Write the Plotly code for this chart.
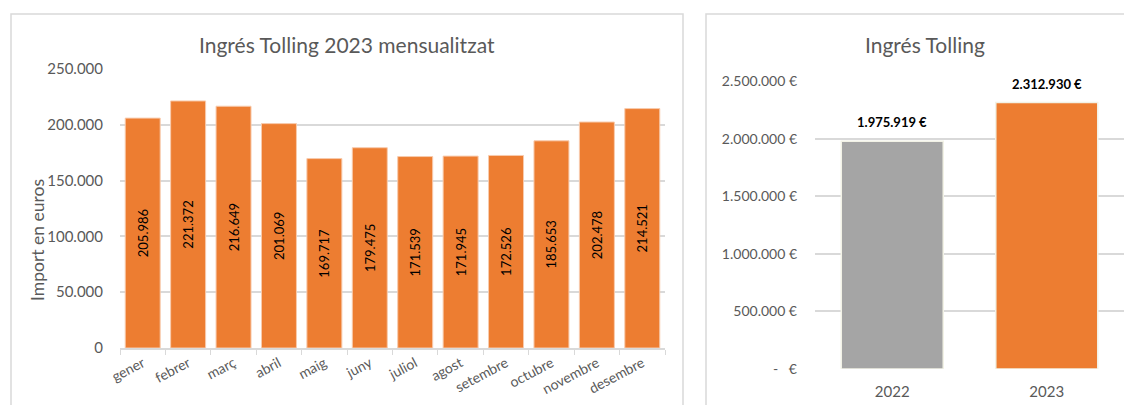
import plotly.graph_objects as go

months = ["gener", "febrer", "març", "abril", "maig", "juny", "juliol", "agost",
          "setembre", "octubre", "novembre", "desembre"]
ingres_2023 = [205986, 221372, 216649, 201069, 169717, 179475, 171539, 171945,
               172526, 185653, 202478, 214521]

years = ["2022", "2023"]
totals = [1975919, 2312930]
year_colors = ["#A5A5A5", "#ED7D31"]

left_ticks = [0, 50000, 100000, 150000, 200000, 250000]
right_ticks = [0, 500000, 1000000, 1500000, 2000000, 2500000]
right_ticktext = ["-   €", "500.000 €", "1.000.000 €", "1.500.000 €", "2.000.000 €", "2.500.000 €"]

W, H = 1132, 405
OFF = 8  # page body margin
FONT = "Lato, 'Open Sans', sans-serif"
GREY_TXT = "#595959"
GRID = "#d9d9d9"


def px(x):
    return (x - OFF) / W


def py(y):
    return 1 - (y - OFF) / H


def fmt_eur(v):
    return f"{v:,d}".replace(",", ".") + " €"


fig = go.Figure()

fig.add_trace(go.Bar(
    x=months, y=ingres_2023, xaxis="x", yaxis="y",
    marker=dict(color="#ED7D31", line=dict(color="#F8CBAD", width=1)),
    texttemplate="%{y:,d}", textposition="inside", insidetextanchor="middle",
    textangle=-90, textfont=dict(color="black", size=13, family=FONT),
    showlegend=False,
))

fig.add_trace(go.Bar(
    x=years, y=totals, xaxis="x2", yaxis="y2", width=0.66,
    marker=dict(color=year_colors, line=dict(color="#F2F2E6", width=1.5)),
    showlegend=False,
))

annotations = [
    dict(text="Ingrés Tolling 2023 mensualitzat", xref="paper", yref="paper",
         x=px(347), y=py(45), xanchor="center", yanchor="middle", showarrow=False,
         font=dict(size=21, color=GREY_TXT, family=FONT)),
    dict(text="Ingrés Tolling", xref="paper", yref="paper",
         x=px(925), y=py(44), xanchor="center", yanchor="middle", showarrow=False,
         font=dict(size=21, color=GREY_TXT, family=FONT)),
    dict(text="Import en euros", xref="paper", yref="paper",
         x=px(37), y=py(240), xanchor="center", yanchor="middle", showarrow=False,
         textangle=-90,
         font=dict(size=17.5, color=GREY_TXT, family=FONT)),
]
for i, tot in enumerate(totals):
    annotations.append(dict(
        text=f"<b>{fmt_eur(tot)}</b>", xref="x2", yref="y2", x=i, y=tot,
        xanchor="center", yanchor="bottom", yshift=9, showarrow=False,
        font=dict(size=13, color="black", family=FONT)))

fig.update_layout(
    width=W, height=H, autosize=False,
    margin=dict(l=0, r=0, t=0, b=0, pad=0, autoexpand=False),
    showlegend=False,
    paper_bgcolor="white", plot_bgcolor="white",
    separators=",.",
    font=dict(family=FONT, color=GREY_TXT),
    bargap=0.23,
    xaxis=dict(domain=[px(120), px(665)], anchor="y", automargin=False,
               tickangle=-28, tickfont=dict(size=14, color=GREY_TXT),
               showline=True, linecolor=GRID, linewidth=1.5,
               ticks="outside", tickson="boundaries", ticklen=5, tickcolor=GRID,
               showgrid=False),
    yaxis=dict(domain=[py(348), py(69)], anchor="x", range=[0, 250000], automargin=False,
               tickvals=left_ticks, tickformat=",d",
               tickfont=dict(size=15, color=GREY_TXT),
               showgrid=True, gridcolor=GRID, gridwidth=1.5,
               zeroline=False, ticks="", ticklabelstandoff=16),
    xaxis2=dict(domain=[px(815), px(1124)], anchor="y2", automargin=False,
                type="category", range=[-0.5, 1.5],
                tickfont=dict(size=15, color=GREY_TXT), ticklabelstandoff=12,
                showline=False, ticks="", showgrid=False),
    yaxis2=dict(domain=[py(369), py(81)], anchor="x2", range=[0, 2500000], automargin=False,
                tickvals=right_ticks, ticktext=right_ticktext,
                tickfont=dict(size=14, color=GREY_TXT),
                showgrid=True, gridcolor=GRID, gridwidth=1.5,
                zeroline=False, ticks="", ticklabelstandoff=17),
    shapes=[
        dict(type="rect", xref="paper", yref="paper",
             x0=px(11), x1=px(683), y0=py(430), y1=py(14),
             line=dict(color="#d9d9d9", width=1.5)),
        dict(type="rect", xref="paper", yref="paper",
             x0=px(706), x1=px(1150), y0=py(430), y1=py(14),
             line=dict(color="#d9d9d9", width=1.5)),
    ],
    annotations=annotations,
)

fig.write_html("out.html", config={"responsive": False})
